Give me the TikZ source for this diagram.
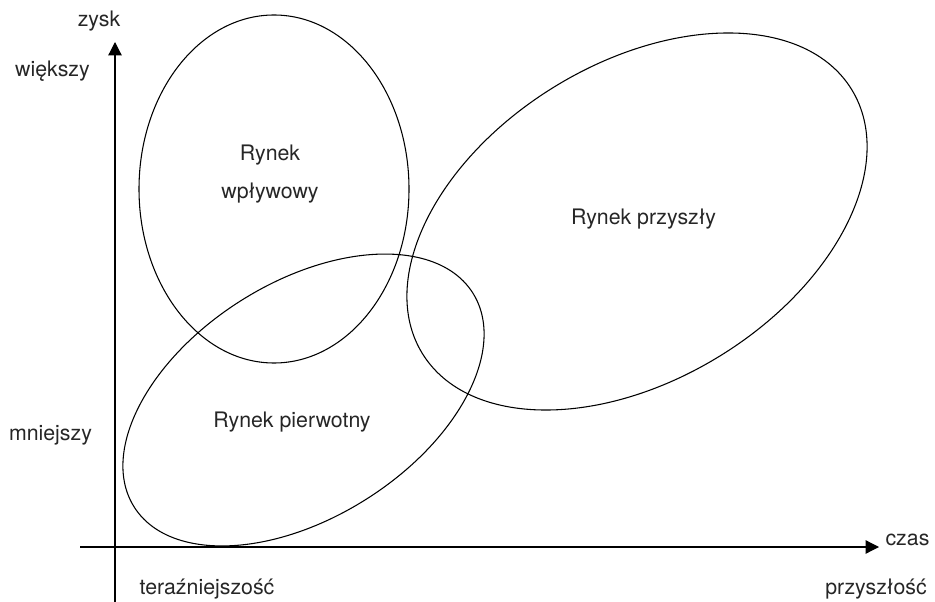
\documentclass[tikz,border=0pt]{standalone}
\usepackage{fontspec}
\setmainfont{TeX Gyre Heros}
\usetikzlibrary{arrows.meta}

\tikzset{
	axis/.style={line width=0.9pt, -{Triangle[length=10pt,width=10pt]}},
	market/.style={line width=0.8pt},
	lbl/.style={inner sep=0pt, text=black!85, font=\fontsize{16}{28}\selectfont},
}

\begin{document}
\begin{tikzpicture}[x=0.75pt,y=-0.75pt]
	\useasboundingbox (0,0) rectangle (935,602);
	% osie
	\coordinate (ystart) at (115,602);
	\coordinate (yend) at (115,42);
	\coordinate (xstart) at (80,547);
	\coordinate (xend) at (879,547);
	\draw[axis] (ystart) -- (yend);
	\draw[axis] (xstart) -- (xend);
	% rynki
	\draw[market] (274,189) ellipse [x radius=135, y radius=174];
	\draw[market, rotate around={32.3:(303.5,400)}] (303.5,400) ellipse [x radius=200.3, y radius=117.4];
	\draw[market, rotate around={31.6:(637,221.5)}] (637,221.5) ellipse [x radius=252, y radius=158];
	% opisy osi
	\node[lbl, anchor=base] (zysk) at (99,26.7) {zysk};
	\node[lbl, anchor=base] (wiekszy) at (52.5,76.7) {większy};
	\node[lbl, anchor=base] (mniejszy) at (50.5,440.7) {mniejszy};
	\node[lbl, anchor=base] (czas) at (907.5,545) {czas};
	\node[lbl, anchor=base] (teraz) at (207,594) {teraźniejszość};
	\node[lbl, anchor=base] (przyszlosc) at (876,594) {przyszłość};
	% opisy rynkow
	\node[lbl, align=center] (wplywowy) at (270,174) {Rynek\\wpływowy};
	\node[lbl, anchor=base] (pierwotny) at (292,427) {Rynek pierwotny};
	\node[lbl, anchor=base] (przyszly) at (643.5,225) {Rynek przyszły};
\end{tikzpicture}
\end{document}
